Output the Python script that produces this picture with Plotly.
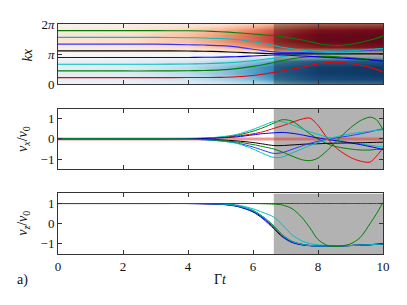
import plotly.graph_objects as go
from plotly.subplots import make_subplots

# time grid (Gamma t) for the particle traces
T = [0, 2, 3, 4, 4.5, 5, 5.5, 6, 6.3, 6.64, 6.9, 7.2, 7.5, 7.75, 8, 8.3, 8.6, 9, 9.3, 9.6, 9.8, 10]

# kx of the 8 particles
kx_red      = [0.70,0.70,0.70,0.71,0.72,0.73,0.79,0.93,1.06,1.25,1.40,1.58,1.77,1.95,2.13,2.28,2.30,2.18,1.99,1.77,1.56,1.28]
kx_green_lo = [1.40,1.40,1.40,1.42,1.45,1.51,1.64,1.87,2.05,2.28,2.47,2.67,2.80,2.88,2.91,2.91,2.88,2.77,2.70,2.62,2.55,2.49]
kx_cyan_lo  = [2.10,2.10,2.10,2.12,2.15,2.21,2.31,2.46,2.58,2.73,2.89,3.06,3.20,3.27,3.30,3.32,3.34,3.38,3.40,3.42,3.43,3.45]
kx_blue_lo  = [2.79,2.79,2.79,2.80,2.82,2.84,2.88,2.96,3.01,3.06,3.06,3.01,2.96,2.91,2.86,2.80,2.76,2.68,2.62,2.55,2.48,2.42]
kx_black    = [3.49,3.49,3.49,3.47,3.45,3.41,3.34,3.27,3.23,3.19,3.18,3.17,3.17,3.17,3.17,3.17,3.17,3.17,3.17,3.17,3.17,3.17]
kx_blue_hi  = [4.19,4.19,4.19,4.13,4.09,4.03,3.90,3.66,3.51,3.38,3.32,3.30,3.32,3.36,3.39,3.43,3.45,3.48,3.51,3.54,3.57,3.60]
kx_cyan_hi  = [4.89,4.89,4.89,4.86,4.83,4.78,4.67,4.45,4.28,4.05,3.86,3.71,3.58,3.50,3.45,3.43,3.44,3.49,3.55,3.64,3.69,3.74]
kx_green_hi = [5.59,5.59,5.59,5.58,5.55,5.48,5.38,5.25,5.17,5.09,4.95,4.80,4.62,4.45,4.26,4.10,4.05,4.18,4.36,4.62,4.81,5.02]

# v_x / v_0
vx_red      = [0,0,0,0.01,0.03,0.07,0.14,0.25,0.35,0.52,0.65,0.82,0.98,1.03,0.67,0.0,-0.5,-0.92,-1.1,-1.15,-0.85,-0.45]
vx_green_lo = [0,0,0,0.01,0.03,0.08,0.18,0.38,0.55,0.78,0.95,0.88,0.55,0.25,0.0,-0.25,-0.4,-0.5,-0.55,-0.55,-0.52,-0.5]
vx_cyan_lo  = [0,0,0,0.02,0.04,0.1,0.22,0.47,0.66,0.86,0.85,0.7,0.5,0.35,0.22,0.08,-0.05,-0.18,-0.25,-0.32,-0.36,-0.4]
vx_blue_lo  = [0,0,0,0.01,0.02,0.05,0.1,0.2,0.26,0.3,0.32,0.28,0.2,0.12,0.05,-0.03,-0.1,-0.2,-0.28,-0.38,-0.45,-0.53]
vx_black    = [0,0,0,-0.01,-0.02,-0.05,-0.1,-0.18,-0.25,-0.33,-0.33,-0.3,-0.27,-0.25,-0.24,-0.22,-0.21,-0.2,-0.19,-0.18,-0.17,-0.16]
vx_blue_hi  = [0,0,0,-0.02,-0.04,-0.1,-0.2,-0.4,-0.56,-0.72,-0.68,-0.52,-0.35,-0.22,-0.12,-0.02,0.06,0.16,0.25,0.35,0.43,0.5]
vx_cyan_hi  = [0,0,0,-0.02,-0.04,-0.1,-0.22,-0.5,-0.72,-0.92,-0.9,-0.7,-0.5,-0.33,-0.18,-0.02,0.12,0.25,0.32,0.38,0.42,0.45]
vx_green_hi = [0,0,0,-0.01,-0.03,-0.08,-0.15,-0.28,-0.38,-0.5,-0.65,-0.85,-1.03,-1.08,-0.95,-0.55,-0.05,0.55,0.9,1.08,0.95,0.45]
vx_mean_t = [0, 10]
vx_mean   = [0.0, 0.0]

# v_z / v_0
vz_red      = [1,1,1,1,1,1,1,1,1,1,1,1,1,1,1,1,1,1,1,1,1,1]
vz_green_lo = [1,1,1,1,1,0.98,0.9,0.66,0.36,-0.1,-0.55,-0.87,-1.02,-1.08,-1.1,-1.1,-1.1,-1.08,-1.06,-1.04,-1.02,-1.0]
vz_cyan_lo  = [1,1,1,1,1,0.98,0.93,0.74,0.56,0.33,-0.05,-0.55,-0.85,-0.98,-1.05,-1.08,-1.1,-1.08,-1.06,-1.04,-1.02,-1.0]
vz_blue_lo  = [1,1,1,1,0.99,0.96,0.86,0.58,0.25,-0.25,-0.65,-0.93,-1.05,-1.09,-1.1,-1.1,-1.1,-1.08,-1.06,-1.04,-1.02,-1.0]
vz_black    = [1,1,1,1,0.99,0.97,0.88,0.62,0.3,-0.18,-0.6,-0.9,-1.03,-1.08,-1.1,-1.1,-1.1,-1.08,-1.06,-1.04,-1.02,-1.0]
vz_blue_hi  = [1,1,1,1,0.99,0.97,0.89,0.64,0.33,-0.15,-0.56,-0.88,-1.02,-1.08,-1.1,-1.1,-1.1,-1.08,-1.06,-1.04,-1.02,-1.0]
vz_cyan_hi  = [1,1,1,1,1,0.98,0.9,0.65,0.35,-0.12,-0.57,-0.88,-1.02,-1.08,-1.1,-1.1,-1.1,-1.08,-1.06,-1.04,-1.02,-1.0]
vz_green_hi = [1,1,1,1,1,1,1,1,0.99,0.97,0.93,0.75,0.32,-0.2,-0.78,-1.08,-1.12,-1.0,-0.68,0.0,0.5,1.05]

# background density (top panel): rows = kx, cols = t
hm_t  = [0, 2, 4, 5, 6, 6.6, 8, 10]
hm_kx = [0, 0.6, 1.2, 1.8, 2.4, 2.9, 3.14, 3.4, 3.9, 4.5, 5.1, 5.7, 6.28]
hm_z = [
    [-0.04,-0.06,-0.12,-0.17,-0.26,-0.36,-0.5,-0.55],
    [-0.08,-0.1,-0.2,-0.3,-0.45,-0.58,-0.78,-0.82],
    [-0.1,-0.13,-0.26,-0.4,-0.55,-0.68,-0.85,-0.88],
    [-0.1,-0.13,-0.26,-0.4,-0.55,-0.68,-0.85,-0.88],
    [-0.07,-0.09,-0.17,-0.26,-0.4,-0.5,-0.68,-0.72],
    [-0.02,-0.03,-0.05,-0.08,-0.12,-0.18,-0.2,-0.25],
    [0,0,0,0,0,0,0,0],
    [0.03,0.04,0.05,0.08,0.12,0.18,0.2,0.25],
    [0.08,0.1,0.2,0.3,0.45,0.58,0.75,0.8],
    [0.13,0.17,0.3,0.44,0.58,0.7,0.88,0.9],
    [0.13,0.17,0.3,0.44,0.58,0.7,0.88,0.9],
    [0.09,0.12,0.25,0.35,0.5,0.62,0.8,0.85],
    [0.04,0.06,0.12,0.17,0.26,0.36,0.5,0.55],
]

t_shade = 6.64
t_max = 10
PI = 3.141592653589793

particles = [
    ("red", "#ee0000", kx_red, vx_red, vz_red),
    ("green_lo", "#007f00", kx_green_lo, vx_green_lo, vz_green_lo),
    ("cyan_lo", "#00bfbf", kx_cyan_lo, vx_cyan_lo, vz_cyan_lo),
    ("blue_lo", "#0000ee", kx_blue_lo, vx_blue_lo, vz_blue_lo),
    ("black", "#000000", kx_black, vx_black, vz_black),
    ("blue_hi", "#3333ff", kx_blue_hi, vx_blue_hi, vz_blue_hi),
    ("cyan_hi", "#00bfbf", kx_cyan_hi, vx_cyan_hi, vz_cyan_hi),
    ("green_hi", "#007f00", kx_green_hi, vx_green_hi, vz_green_hi),
]

rdbu_r = [
    [0.0, "rgb(5,48,97)"], [0.1, "rgb(33,102,172)"], [0.2, "rgb(67,147,195)"],
    [0.3, "rgb(146,197,222)"], [0.4, "rgb(209,229,240)"], [0.5, "rgb(247,247,247)"],
    [0.6, "rgb(253,219,199)"], [0.7, "rgb(244,165,130)"], [0.8, "rgb(214,96,77)"],
    [0.9, "rgb(178,24,43)"], [1.0, "rgb(103,0,31)"],
]

fig = make_subplots(rows=3, cols=1)

# top panel
fig.add_trace(go.Heatmap(x=hm_t, y=hm_kx, z=hm_z, colorscale=rdbu_r, zmin=-1, zmax=1,
                         zsmooth="best", showscale=False, hoverinfo="skip"), row=1, col=1)

shade_rng = {1: (0, 2 * PI), 2: (-1.5, 1.5), 3: (-1.5, 1.5)}
for r in (1, 2, 3):
    lo, hi = shade_rng[r]
    fig.add_trace(go.Scatter(x=[t_shade, t_max, t_max, t_shade, t_shade], y=[lo, lo, hi, hi, lo],
                             mode="lines", fill="toself", fillcolor="rgba(0,0,0,0.3)",
                             line=dict(width=0), hoverinfo="skip"), row=r, col=1)

for name, col, kx, vx, vz in particles:
    fig.add_trace(go.Scatter(x=T, y=kx, mode="lines", line=dict(color=col, width=1.1, shape="spline", smoothing=0.8)), row=1, col=1)

fig.add_trace(go.Scatter(x=vx_mean_t, y=vx_mean, mode="lines", line=dict(color="rgba(230,60,60,0.55)", width=3)), row=2, col=1)
for name, col, kx, vx, vz in particles:
    fig.add_trace(go.Scatter(x=T, y=vx, mode="lines", line=dict(color=col, width=1, shape="spline", smoothing=0.8)), row=2, col=1)

for name, col, kx, vx, vz in particles[1:] + particles[:1]:
    fig.add_trace(go.Scatter(x=T, y=vz, mode="lines", line=dict(color=col, width=1, shape="spline", smoothing=0.8)), row=3, col=1)

SERIF = "Liberation Serif, DejaVu Serif, Times New Roman, serif"
font = dict(family=SERIF, size=13, color="#111")
axcommon = dict(showline=True, linecolor="#333", linewidth=1, mirror="ticks", ticks="inside",
                ticklen=4, tickcolor="#333", showgrid=False, zeroline=False, tickfont=font)

domains = {1: [0.7375, 1.0], 2: [0.3688, 0.6321], 3: [0.0, 0.2633]}
for r in (1, 2, 3):
    fig.update_xaxes(range=[0, t_max], tickvals=[0, 2, 4, 6, 8, 10], showticklabels=(r == 3),
                     domain=[0, 1], row=r, col=1, **axcommon)
    fig.update_yaxes(domain=domains[r], row=r, col=1, **axcommon)

fig.update_yaxes(range=[0, 2 * PI], tickvals=[0, PI, 2 * PI], ticktext=["0", "<i>π</i>", "2<i>π</i>"], row=1, col=1)
for r in (2, 3):
    fig.update_yaxes(range=[-1.5, 1.5], tickvals=[-1, 0, 1], ticktext=["−1", "0", "1"], row=r, col=1)

ann = [
    dict(text="<i>kx</i>", x=-0.094, y=0.865, textangle=-90),
    dict(text="<i>v<sub>x</sub></i>/<i>v</i><sub>0</sub>", x=-0.108, y=0.5, textangle=-90),
    dict(text="<i>v<sub>z</sub></i>/<i>v</i><sub>0</sub>", x=-0.105, y=0.135, textangle=-90),
    dict(text="Γ<i>t</i>", x=0.5, y=-0.113, textangle=0),
    dict(text="a)", x=-0.109, y=-0.113, textangle=0),
]
fig.update_layout(
    annotations=[dict(a, xref="paper", yref="paper", showarrow=False, xanchor="center",
                      yanchor="middle", font=dict(family=SERIF, size=14, color="#111")) for a in ann],
    width=407, height=305, margin=dict(l=49.5, r=32.3, t=15.5, b=59, autoexpand=False),
    paper_bgcolor="white", plot_bgcolor="white", showlegend=False,
    font=font,
)

fig.write_html("out.html")
